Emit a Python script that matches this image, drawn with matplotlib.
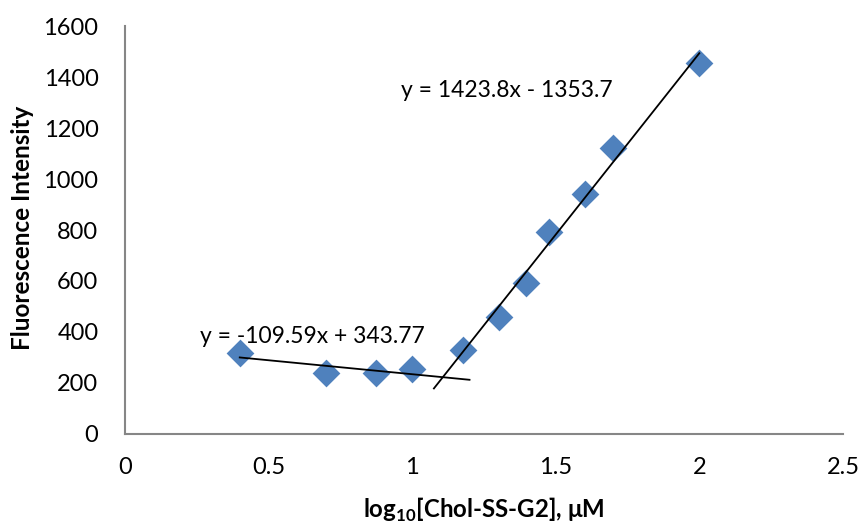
import numpy as np
import matplotlib
matplotlib.use('Agg')
import matplotlib.pyplot as plt

plt.rcParams['font.family'] = ['Lato', 'DejaVu Sans']
plt.rcParams['mathtext.fontset'] = 'custom'
plt.rcParams['mathtext.rm'] = 'Lato'
plt.rcParams['mathtext.bf'] = 'Lato:bold'

# data
log_conc = [0.40, 0.70, 0.875, 1.00, 1.176, 1.301, 1.398, 1.477, 1.602, 1.699, 2.00]
intensity = [318, 240, 239, 256, 330, 459, 594, 792, 941, 1123, 1455]

# trendline fits (from chart labels) and their drawn x ranges
fit_low = (-109.59, 343.77)
fit_low_x = [0.40, 1.20]
fit_high = (1423.8, -1353.7)
fit_high_x = [1.076, 2.00]

fig = plt.figure(figsize=(8.61, 5.24), dpi=100)
ax = fig.add_axes([0.145, 0.172, 0.834, 0.778])

ax.scatter(log_conc, intensity, marker='D', s=200, color='#4F81BD', zorder=3, linewidths=0)

for (m, b), xr in [(fit_low, fit_low_x), (fit_high, fit_high_x)]:
    xs = np.array(xr)
    ax.plot(xs, m * xs + b, color='black', lw=1.3, zorder=4)

ax.text(0.262, 384, 'y = -109.59x + 343.77', fontsize=16.5, va='center', ha='left')
ax.text(0.96, 1349, 'y = 1423.8x - 1353.7', fontsize=16.5, va='center', ha='left')

ax.set_xlim(0, 2.5)
ax.set_ylim(0, 1600)
ax.set_xticks([0, 0.5, 1, 1.5, 2, 2.5])
ax.set_xticklabels(['0', '0.5', '1', '1.5', '2', '2.5'])
ax.set_yticks(range(0, 1601, 200))
ax.tick_params(length=0, labelsize=17)
ax.tick_params(axis='y', pad=19)
ax.tick_params(axis='x', pad=17)

for s in ['top', 'right']:
    ax.spines[s].set_visible(False)
for s in ['left', 'bottom']:
    ax.spines[s].set_color('#868686')
    ax.spines[s].set_linewidth(1.5)

ax.set_xlabel(r'log$_{\mathbf{10}}$[Chol-SS-G2], μM', fontsize=17.3, fontweight='bold')
ax.set_ylabel('Fluorescence Intensity', fontsize=17.5, fontweight='bold')
ax.xaxis.set_label_coords(0.5, -0.186)
ax.yaxis.set_label_coords(-0.143, 0.505)
ax.xaxis.label.set_va('center')
ax.yaxis.label.set_va('center')

fig.savefig('out.png', dpi=100)
